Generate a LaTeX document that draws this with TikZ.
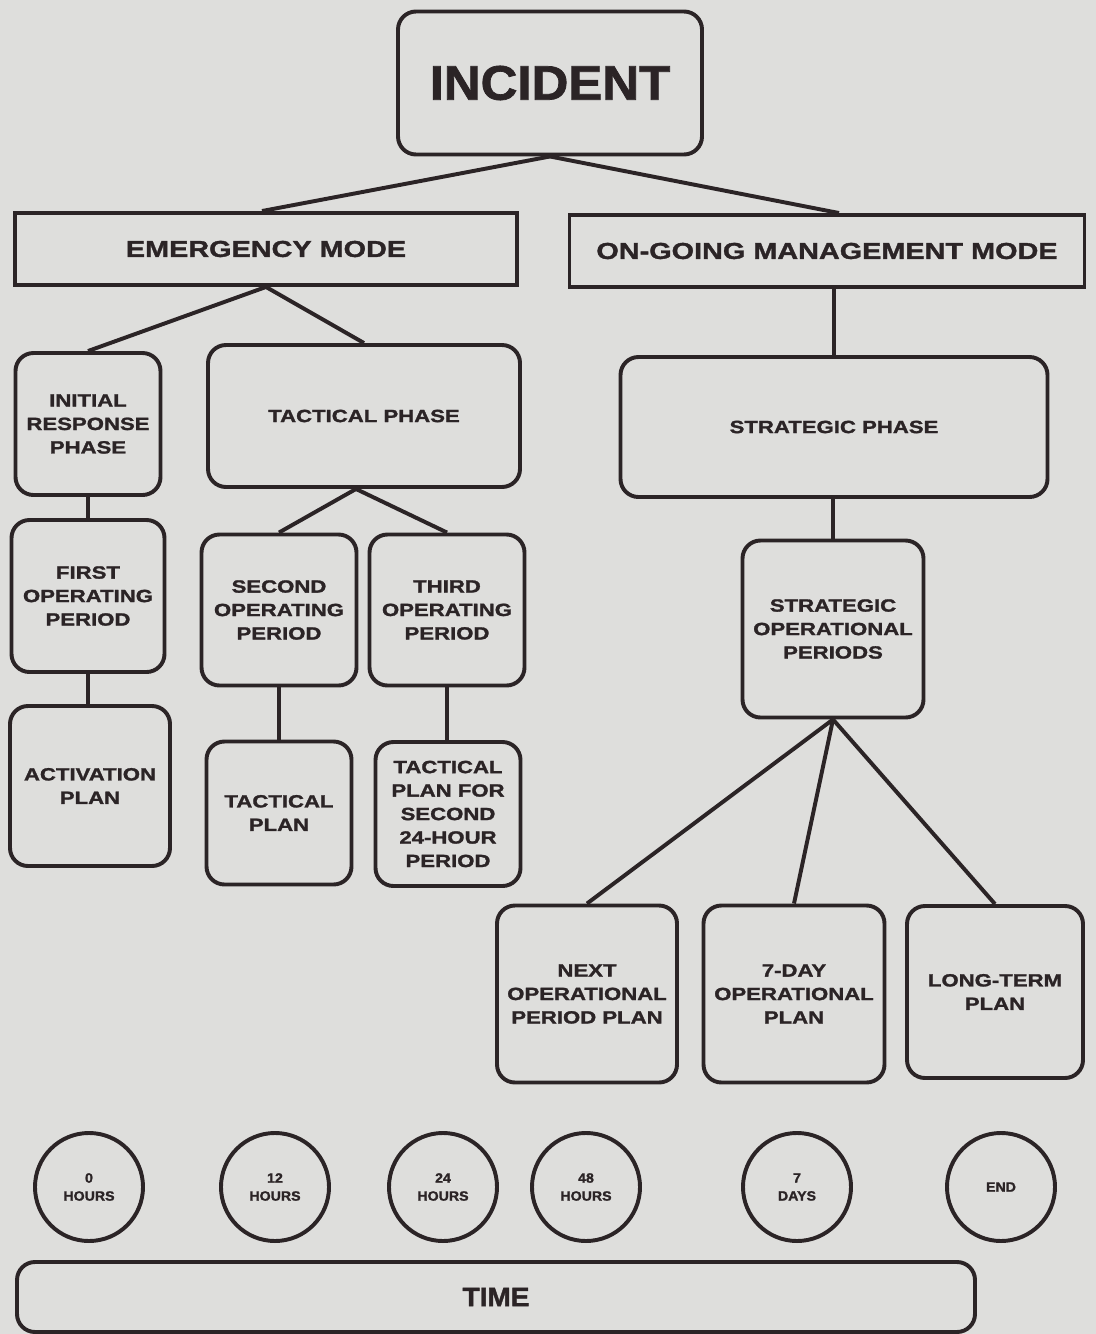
\documentclass[tikz,border=0pt]{standalone}
\usepackage{fontspec}
\setmainfont{Liberation Sans}
\newfontfamily\wideface[FakeStretch=1.25, BoldFeatures={FakeBold=1.5}]{Liberation Sans}
\newfontfamily\titleface[FakeStretch=1.05, BoldFeatures={FakeBold=1.5}]{Liberation Sans}
\definecolor{ink}{HTML}{2B2426}
\definecolor{paper}{HTML}{DEDEDC}

\begin{document}
\begin{tikzpicture}[x=0.025cm, y=-0.025cm, line width=2.8pt, color=ink,
    dims/.style 2 args = {minimum width=#1*0.025cm, minimum height=#2*0.025cm},
    main/.style = {draw, rounded corners=0.45cm, align=center, inner sep=0pt, text=ink,
                   font=\wideface\bfseries\fontsize{12.6}{16.7}\selectfont},
    mode/.style = {main, sharp corners, font=\wideface\bfseries\fontsize{16.4}{19}\selectfont},
    tick/.style = {draw, circle, inner sep=0pt, minimum size=2.7cm, align=center, text=ink,
                   font=\titleface\bfseries\fontsize{9.6}{12.8}\selectfont}]
            \fill[paper] (0,0) rectangle (1096,1334);
            \useasboundingbox (0,0) rectangle (1096,1334);
            % top levels
            \node[main, dims={304}{143}, font=\titleface\bfseries\fontsize{34.5}{40}\selectfont] (inc) at (550,83) {INCIDENT};
            \node[mode, dims={502}{72}] (em) at (266,249) {EMERGENCY MODE};
            \node[mode, dims={515}{72}] (og) at (827,251) {ON-GOING MANAGEMENT MODE};
            % emergency side
            \node[main, dims={145}{142}] (irp) at (88,424) {INITIAL\\RESPONSE\\PHASE};
            \node[main, dims={312}{142}] (tac) at (364,416) {TACTICAL PHASE};
            \node[main, dims={153}{152}] (fop) at (88,596) {FIRST\\OPERATING\\PERIOD};
            \node[main, dims={160}{160}] (act) at (90,786) {ACTIVATION\\PLAN};
            \node[main, dims={155}{151}] (sop) at (279,610) {SECOND\\OPERATING\\PERIOD};
            \node[main, dims={155}{151}] (top) at (447,610) {THIRD\\OPERATING\\PERIOD};
            \node[main, dims={145}{143}] (tp) at (279,813) {TACTICAL\\PLAN};
            \node[main, dims={145}{144}] (tp2) at (448,814) {TACTICAL\\PLAN FOR\\SECOND\\24-HOUR\\PERIOD};
            % on-going side
            \node[main, dims={427}{140}] (sp) at (834,427) {STRATEGIC PHASE};
            \node[main, dims={181}{177}] (sopd) at (833,629) {STRATEGIC\\OPERATIONAL\\PERIODS};
            \node[main, dims={180}{177}] (next) at (587,994) {NEXT\\OPERATIONAL\\PERIOD PLAN};
            \node[main, dims={181}{177}] (day7) at (794,994) {7-DAY\\OPERATIONAL\\PLAN};
            \node[main, dims={176}{172}] (lt) at (995,992) {LONG-TERM\\PLAN};
            % time line
            \node[tick] (t0) at (89,1187) {0\\HOURS};
            \node[tick] (t12) at (275,1187) {12\\HOURS};
            \node[tick] (t24) at (443,1187) {24\\HOURS};
            \node[tick] (t48) at (586,1187) {48\\HOURS};
            \node[tick] (t7d) at (797,1187) {7\\DAYS};
            \node[tick] (tend) at (1001,1187) {END};
            \node[main, dims={958}{70}, font=\titleface\bfseries\fontsize{19}{22}\selectfont] (time) at (496,1297) {TIME};
            % connectors
            \draw (inc.south) to ([xshift=-0.1cm]em.north);
            \draw (inc.south) to ([xshift=0.3cm]og.north);
            \draw (em.south) to (irp.north);
            \draw (em.south) to (tac.north);
            \draw (irp.south) to (irp.south |- fop.north);
            \draw (fop.south) to (fop.south |- act.north);
            \draw ([xshift=-0.2cm]tac.south) to (sop.north);
            \draw ([xshift=-0.2cm]tac.south) to (top.north);
            \draw (sop.south) to (sop.south |- tp.north);
            \draw (top.south) to (top.south |- tp2.north);
            \draw (sp.north |- og.south) to (sp.north);
            \draw (sopd.north |- sp.south) to (sopd.north);
            \draw (sopd.south) to (next.north);
            \draw (sopd.south) to (day7.north);
            \draw (sopd.south) to (lt.north);
        \end{tikzpicture}
\end{document}
